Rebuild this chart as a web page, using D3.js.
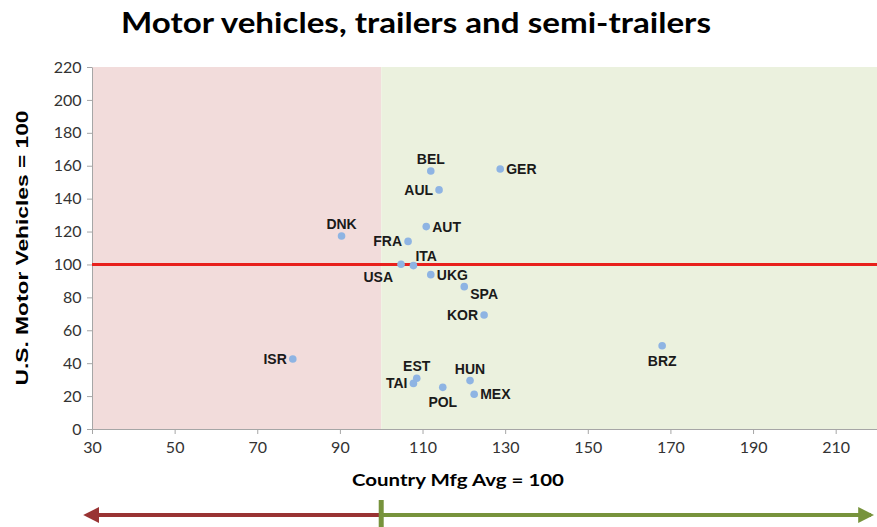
<!DOCTYPE html>
<html>
<head>
<meta charset="utf-8">
<script src="https://cdn.jsdelivr.net/npm/d3@7"></script>
<style>
  body { margin: 0; background: #fff; }
  svg { display: block; }
</style>
</head>
<body>
<div id="chart"></div>
<script>
// data
var countries = ['BEL', 'GER', 'AUL', 'DNK', 'AUT', 'FRA', 'USA', 'ITA', 'UKG', 'SPA',
                 'KOR', 'BRZ', 'ISR', 'EST', 'TAI', 'POL', 'HUN', 'MEX'];
var mfgIndex = [112.0, 128.8, 114.0, 90.4, 110.9, 106.5, 104.8, 107.8, 112.0, 120.1,
                124.9, 168.0, 78.6, 108.6, 107.8, 114.9, 121.5, 122.5];
var vehIndex = [156.8, 158.0, 145.3, 117.3, 123.0, 114.0, 100.1, 99.3, 93.8, 86.5,
                69.3, 50.6, 42.5, 30.8, 27.7, 25.3, 29.4, 21.1];
var labelPlace = ['top', 'right', 'left', 'top', 'right', 'left', 'bottomleft', 'topright', 'right', 'bottomright',
                  'left', 'bottom', 'left', 'top', 'left', 'bottom', 'top', 'right'];
var xTicks = [30, 50, 70, 90, 110, 130, 150, 170, 190, 210];
var yTicks = [0, 20, 40, 60, 80, 100, 120, 140, 160, 180, 200, 220];
var refValue = 100;

var svgWidth = 877, svgHeight = 527;
var margin = {top: 67, right: 0, bottom: 98, left: 92};
var chartWidth = svgWidth - margin.left - margin.right;
var chartHeight = svgHeight - margin.top - margin.bottom;

var svg = d3.select('#chart').append('svg')
  .attr('width', svgWidth)
  .attr('height', svgHeight);

var chartGroup = svg.append('g')
  .attr('transform', `translate(${margin.left}, ${margin.top})`);

var xScale = d3.scaleLinear().domain([30, 220]).range([0, chartWidth]);
var yScale = d3.scaleLinear().domain([0, 220]).range([chartHeight, 0]);

// shaded zones either side of 100
chartGroup.append('rect')
  .attr('x', 0).attr('y', 0)
  .attr('width', xScale(refValue))
  .attr('height', chartHeight)
  .attr('fill', '#f2dcdb');
chartGroup.append('rect')
  .attr('x', xScale(refValue)).attr('y', 0)
  .attr('width', chartWidth - xScale(refValue))
  .attr('height', chartHeight)
  .attr('fill', '#ebf1de');

// axes
var xAxis = chartGroup.append('g')
  .attr('transform', `translate(0, ${chartHeight})`)
  .call(d3.axisBottom(xScale).tickValues(xTicks).tickSize(5).tickSizeOuter(0));
var yAxis = chartGroup.append('g')
  .call(d3.axisLeft(yScale).tickValues(yTicks).tickSize(5).tickSizeOuter(0));

[xAxis, yAxis].forEach(function(ax) {
  ax.select('.domain').attr('stroke', '#a6a6a6');
  ax.selectAll('.tick line').attr('stroke', '#a6a6a6');
  ax.selectAll('.tick text')
    .attr('fill', '#333')
    .attr('font-family', 'Lato, sans-serif')
    .attr('font-size', '16px');
});
xAxis.selectAll('.tick text').attr('dy', '1.0em');
yAxis.selectAll('.tick text').attr('dx', '-0.15em');

// reference line at 100
chartGroup.append('line')
  .attr('x1', 0).attr('x2', chartWidth)
  .attr('y1', yScale(refValue)).attr('y2', yScale(refValue))
  .attr('stroke', '#e8201c')
  .attr('stroke-width', 3);

// points
var points = countries.map(function(c, i) {
  return {name: c, x: mfgIndex[i], y: vehIndex[i], place: labelPlace[i]};
});

chartGroup.selectAll('circle.pt')
  .data(points)
  .enter()
  .append('circle')
  .attr('class', 'pt')
  .attr('cx', d => xScale(d.x))
  .attr('cy', d => yScale(d.y))
  .attr('r', 3.8)
  .attr('fill', '#8eb4e3');

// label offsets per placement keyword
var offsets = {
  top: [0, -12, 'middle'],
  bottom: [0, 15, 'middle'],
  left: [-6, 0, 'end'],
  right: [6, 0, 'start'],
  topright: [2, -10, 'start'],
  bottomleft: [-8, 13, 'end'],
  bottomright: [6, 7, 'start']
};

chartGroup.selectAll('text.lbl')
  .data(points)
  .enter()
  .append('text')
  .attr('class', 'lbl')
  .attr('x', d => xScale(d.x) + offsets[d.place][0])
  .attr('y', d => yScale(d.y) + offsets[d.place][1])
  .attr('text-anchor', d => offsets[d.place][2])
  .attr('dominant-baseline', 'central')
  .attr('font-family', 'Liberation Sans, Arial, sans-serif')
  .attr('font-weight', 'bold')
  .attr('font-size', '14px')
  .attr('fill', '#1a1a1a')
  .text(d => d.name);

// title
svg.append('text')
  .attr('x', 416)
  .attr('y', 33)
  .attr('text-anchor', 'middle')
  .attr('font-family', 'Lato, sans-serif')
  .attr('font-weight', 'bold')
  .attr('font-size', '28px')
  .attr('textLength', 590)
  .attr('lengthAdjust', 'spacingAndGlyphs')
  .attr('fill', '#000')
  .text('Motor vehicles, trailers and semi-trailers');

// axis titles
svg.append('text')
  .attr('x', 458)
  .attr('y', 486)
  .attr('text-anchor', 'middle')
  .attr('font-family', 'Lato, sans-serif')
  .attr('font-weight', 'bold')
  .attr('font-size', '17px')
  .attr('textLength', 212)
  .attr('lengthAdjust', 'spacingAndGlyphs')
  .attr('fill', '#000')
  .text('Country Mfg Avg = 100');

svg.append('text')
  .attr('transform', 'translate(28, 248) rotate(-90)')
  .attr('text-anchor', 'middle')
  .attr('font-family', 'Liberation Sans, Arial, sans-serif')
  .attr('font-weight', 'bold')
  .attr('font-size', '16px')
  .attr('textLength', 275)
  .attr('lengthAdjust', 'spacingAndGlyphs')
  .attr('fill', '#000')
  .text('U.S. Motor Vehicles = 100');

// arrows along the bottom
var arrowY = 515;
var xMid = margin.left + xScale(refValue);
var defs = svg.append('defs');
defs.append('marker')
  .attr('id', 'headRed')
  .attr('viewBox', '0 0 10 10')
  .attr('refX', 2).attr('refY', 5)
  .attr('markerWidth', 4).attr('markerHeight', 4)
  .attr('orient', 'auto')
  .append('path').attr('d', 'M0,0 L10,5 L0,10 Z').attr('fill', '#993333');
defs.append('marker')
  .attr('id', 'headGreen')
  .attr('viewBox', '0 0 10 10')
  .attr('refX', 8).attr('refY', 5)
  .attr('markerWidth', 4).attr('markerHeight', 4)
  .attr('orient', 'auto')
  .append('path').attr('d', 'M0,0 L10,5 L0,10 Z').attr('fill', '#77933c');

svg.append('line')
  .attr('x1', xMid).attr('x2', margin.left + 4)
  .attr('y1', arrowY).attr('y2', arrowY)
  .attr('stroke', '#993333')
  .attr('stroke-width', 4)
  .attr('marker-end', 'url(#headRed)');

svg.append('line')
  .attr('x1', xMid).attr('x2', svgWidth - 6)
  .attr('y1', arrowY).attr('y2', arrowY)
  .attr('stroke', '#77933c')
  .attr('stroke-width', 4)
  .attr('marker-end', 'url(#headGreen)');

svg.append('line')
  .attr('x1', xMid).attr('x2', xMid)
  .attr('y1', 500).attr('y2', svgHeight)
  .attr('stroke', '#77933c')
  .attr('stroke-width', 5);
</script>
</body>
</html>
